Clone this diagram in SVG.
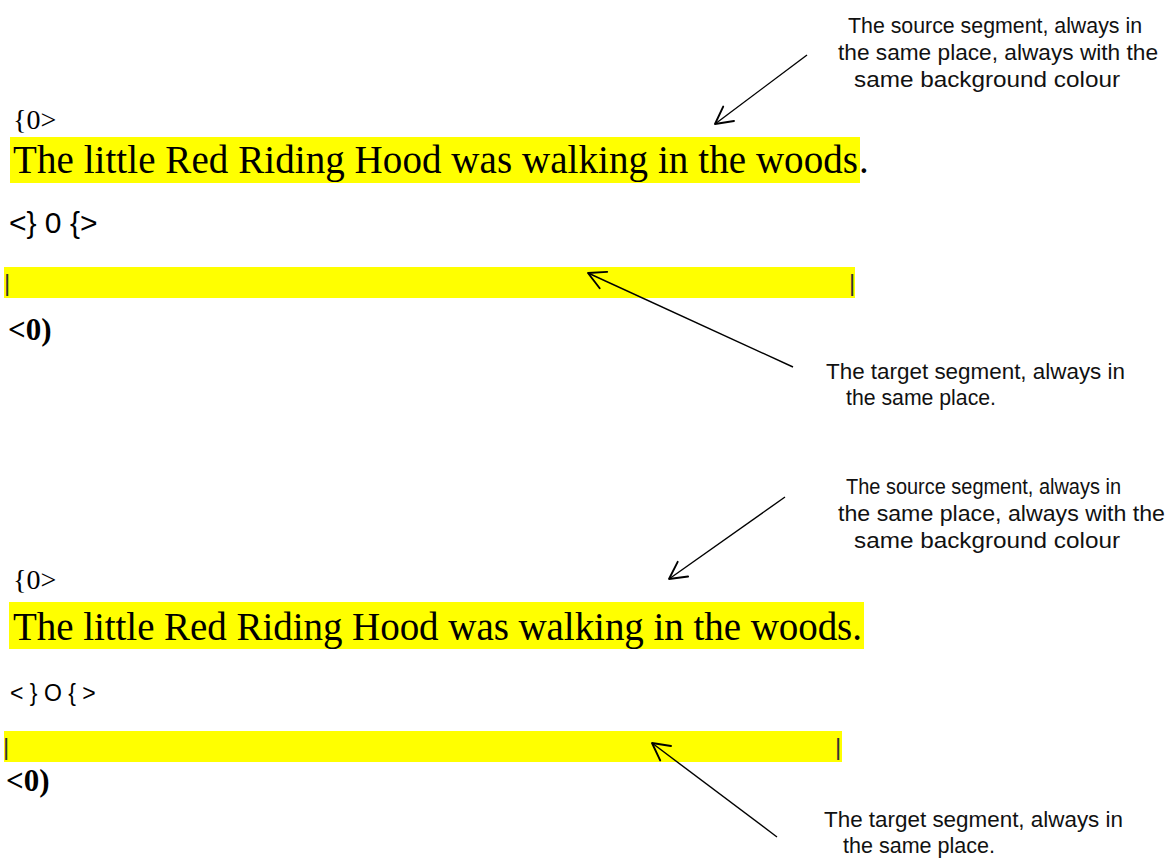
<svg xmlns="http://www.w3.org/2000/svg" width="1175" height="858" viewBox="0 0 1175 858">
<defs>
<style>
.serif{font-family:"Liberation Serif","Times New Roman",serif;fill:#000}
.sans{font-family:"Liberation Sans",Arial,sans-serif;fill:#000}
.note{font-family:"Liberation Sans",Arial,sans-serif;font-size:22px;fill:#111}
.hl{fill:#ffff00}
.big{font-size:39px}
.cur{font-family:"Liberation Sans",Arial,sans-serif;font-size:24px;fill:#333}
.tag{font-size:28px}
.end{font-size:31px;font-weight:bold}
.conn{stroke:#000;stroke-width:1.4;fill:none}
</style>
<marker id="open" markerUnits="userSpaceOnUse" markerWidth="24" markerHeight="24" viewBox="-20 -12 24 24" refX="0" refY="0" orient="auto">
<path d="M-17,-9 L0,0 L-17,9" fill="none" stroke="#000" stroke-width="1.9" stroke-linecap="round" stroke-linejoin="round"/>
</marker>
</defs>
<rect width="1175" height="858" fill="#fff"/>

<g id="section1-source">
<text class="serif tag" x="13" y="129">{0&gt;</text>
<rect class="hl" x="10" y="137" width="850" height="46"/>
<text class="serif big" x="13" y="173" textLength="845">The little Red Riding Hood was walking in the woods</text>
<text class="serif big" x="859" y="173">.</text>
</g>
<g id="section1-mid">
<text class="sans" x="9" y="233" font-size="30">&lt;} 0 {&gt;</text>
</g>
<g id="section1-target">
<rect class="hl" x="4" y="267" width="851" height="31"/>
<text class="cur" x="4" y="291">|</text>
<text class="cur" x="849" y="291">|</text>
</g>
<g id="section1-end">
<text class="serif end" x="8" y="340">&lt;0)</text>
</g>
<g id="note-source-1">
<text class="note" x="848" y="33" textLength="294" lengthAdjust="spacingAndGlyphs">The source segment, always in</text>
<text class="note" x="838" y="60" textLength="320" lengthAdjust="spacingAndGlyphs">the same place, always with the</text>
<text class="note" x="854" y="87" textLength="266" lengthAdjust="spacingAndGlyphs">same background colour</text>
</g>
<g id="note-target-1">
<text class="note" x="826" y="379" textLength="299" lengthAdjust="spacingAndGlyphs">The target segment, always in</text>
<text class="note" x="846" y="405" textLength="150" lengthAdjust="spacingAndGlyphs">the same place.</text>
</g>

<g id="section2-source">
<text class="serif tag" x="13" y="589">{0&gt;</text>
<rect class="hl" x="9" y="602" width="855" height="47"/>
<text class="serif big" x="13" y="640" textLength="849">The little Red Riding Hood was walking in the woods.</text>
</g>
<g id="section2-mid">
<text class="sans" x="10" y="701" font-size="23">&lt; } O { &gt;</text>
</g>
<g id="section2-target">
<rect class="hl" x="4" y="731" width="838" height="31"/>
<text class="cur" x="3" y="755">|</text>
<text class="cur" x="835" y="755">|</text>
</g>
<g id="section2-end">
<text class="serif end" x="6" y="791">&lt;0)</text>
</g>
<g id="note-source-2">
<text class="note" x="846" y="494" textLength="275" lengthAdjust="spacingAndGlyphs">The source segment, always in</text>
<text class="note" x="838" y="521" textLength="327" lengthAdjust="spacingAndGlyphs">the same place, always with the</text>
<text class="note" x="854" y="548" textLength="266" lengthAdjust="spacingAndGlyphs">same background colour</text>
</g>
<g id="note-target-2">
<text class="note" x="824" y="827" textLength="299" lengthAdjust="spacingAndGlyphs">The target segment, always in</text>
<text class="note" x="843" y="853" textLength="152" lengthAdjust="spacingAndGlyphs">the same place.</text>
</g>

<g id="connectors">
<line class="conn" x1="807" y1="55" x2="715" y2="124" marker-end="url(#open)"/>
<line class="conn" x1="793" y1="367" x2="588" y2="273" marker-end="url(#open)"/>
<line class="conn" x1="785" y1="497" x2="669" y2="579" marker-end="url(#open)"/>
<line class="conn" x1="777" y1="837" x2="652" y2="743" marker-end="url(#open)"/>
</g>
</svg>
